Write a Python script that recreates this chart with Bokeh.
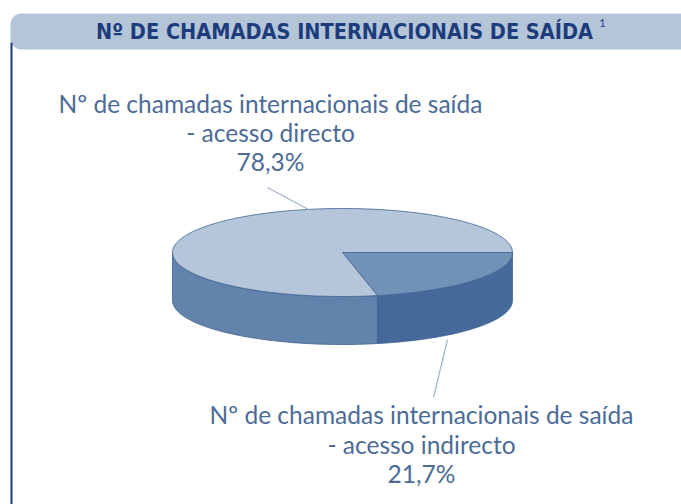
import numpy as np
from bokeh.plotting import figure
from bokeh.models import Range1d
from bokeh.core.properties import value
from bokeh.embed import file_html
from bokeh.resources import INLINE

# ---- data ----
title_text = "Nº DE CHAMADAS INTERNACIONAIS DE SAÍDA"
title_note = "1"
series_names = ["Nº de chamadas internacionais de saída", "Nº de chamadas internacionais de saída"]
series_sub = ["- acesso directo", "- acesso indirecto"]
shares = [78.3, 21.7]
share_labels = ["78,3%", "21,7%"]

# ---- styles ----
W, H = 681, 504
top_cols = ["#b5c6da", "#7191b6"]
side_cols = ["#6283ab", "#45699a"]
edge_col = "#3f6293"
text_col = "#4b6b98"
title_col = "#1d3c7c"
bar_col = "#b4c5d8"

p = figure(width=W, height=H, output_backend="svg", toolbar_location=None,
           x_range=Range1d(0, W), y_range=Range1d(H, 0), min_border=0)
p.axis.visible = False
p.grid.visible = False
p.outline_line_color = None
p.background_fill_color = "white"
p.border_fill_color = "white"

# title bar with rounded left corners
r = 11
x0, x1, y0, y1 = 10, W, 13, 49
bx, by = [x1, x1], [y0, y1]
t = np.linspace(0.5 * np.pi, np.pi, 12)  # bottom-left corner (y down)
bx += list(x0 + r + r * np.cos(t))
by += list(y1 - r + r * np.sin(t))
t = np.linspace(np.pi, 1.5 * np.pi, 12)  # top-left corner
bx += list(x0 + r + r * np.cos(t))
by += list(y0 + r + r * np.sin(t))
p.patch(bx, by, fill_color=bar_col, line_color=None)

# left vertical rule
p.line([11, 11], [42, H], line_color="#1c3b7e", line_width=2)

# title
p.text([344], [31], text=[title_text], text_align="center", text_baseline="middle",
       text_font=value("'DejaVu Sans Condensed', 'Liberation Sans Narrow', 'Roboto Condensed', Roboto"),
       text_font_style="bold", text_font_size="21.5px", text_color=title_col)
p.text([602], [22], text=[title_note], text_align="center", text_baseline="middle",
       text_font=value("Lato"), text_font_size="11px", text_color=title_col)

# ---- 3D pie ----
cx, cy, rx, ry, depth = 342, 252, 170, 44, 48
fr = np.array(shares[::-1]) / 100.0  # small slice first, from angle 0 clockwise
starts = np.concatenate([[0], np.cumsum(fr)[:-1]]) * 2 * np.pi
ends = np.cumsum(fr) * 2 * np.pi
tops = top_cols[::-1]
sides = side_cols[::-1]

# sides (front half: 0..pi in y-down screen)
for a, b, col in zip(starts, ends, sides):
    lo, hi = max(a, 0), min(b, np.pi)
    if hi <= lo:
        continue
    tt = np.linspace(lo, hi, 80)
    xs = list(cx + rx * np.cos(tt)) + list(cx + rx * np.cos(tt[::-1]))
    ys = list(cy + ry * np.sin(tt)) + list(cy + depth + ry * np.sin(tt[::-1]))
    p.patch(xs, ys, fill_color=col, line_color=edge_col, line_width=0.8)

# tops
for a, b, col in zip(starts, ends, tops):
    tt = np.linspace(a, b, 200)
    xs = [cx] + list(cx + rx * np.cos(tt))
    ys = [cy] + list(cy + ry * np.sin(tt))
    p.patch(xs, ys, fill_color=col, line_color=edge_col, line_width=0.8)

# leader lines
p.line([267, 308], [187, 209], line_color="#9fb3cc", line_width=1.2)
p.line([447, 433], [339, 397], line_color="#9fb3cc", line_width=1.2)

# labels
lab_pos = [(270, [103, 132, 161]), (421, [414, 444, 473])]
for i, (lx, ys) in enumerate(lab_pos):
    lines = [series_names[i], series_sub[i], share_labels[i]]
    p.text([lx] * 3, ys, text=lines, text_align="center", text_baseline="middle",
           text_font=value("Lato"), text_font_size="24.5px", text_color=text_col)

open("out.html", "w").write(file_html(p, INLINE))
